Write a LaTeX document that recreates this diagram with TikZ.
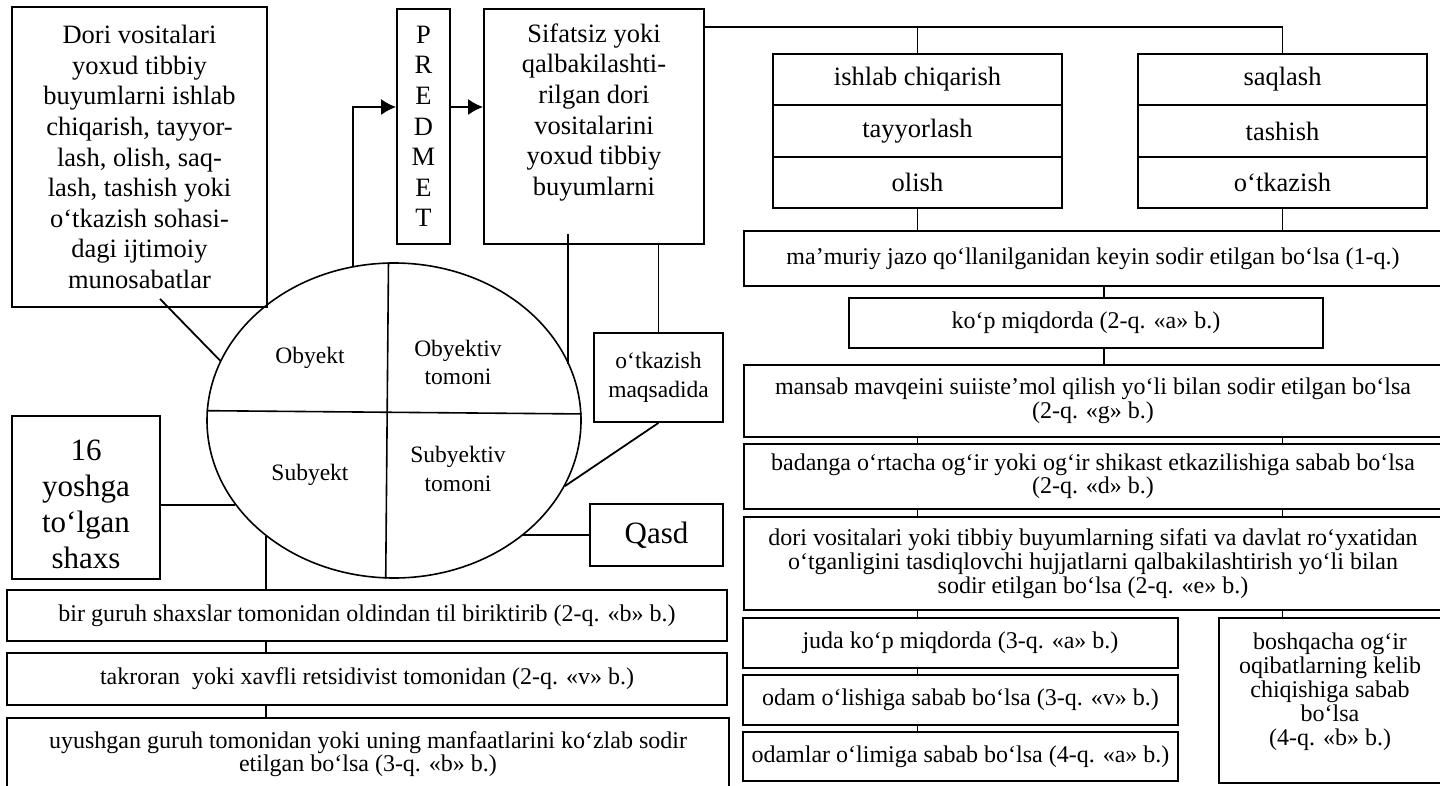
\documentclass[tikz,border=0pt]{standalone}
\usepackage{fontspec}
\setmainfont{Liberation Serif}
\usetikzlibrary{arrows.meta,shapes.geometric}
\begin{document}
\begin{tikzpicture}[x=1pt,y=-1pt,
  box/.style={draw,line width=1.8pt,inner sep=0pt,align=center},
  link/.style={line width=1.8pt},
  arr/.style={line width=1.8pt,-{Latex[length=15pt,width=16pt]}},
  mainf/.style={font=\fontsize{26.5}{30.6}\selectfont},
  ovalf/.style={font=\fontsize{23.5}{28.5}\selectfont},
  rowf/.style={font=\fontsize{24}{24}\selectfont},
  tightf/.style={font=\fontsize{24}{19}\selectfont},
  lowf/.style={font=\fontsize{24}{21}\selectfont},
  bigf/.style={font=\fontsize{31}{36}\selectfont}]
  \useasboundingbox (0,0) rectangle (1440,786);
  % top row
  \node[box,mainf,minimum width=255pt,minimum height=300pt] (obj) at (139.5,157)
    {Dori vositalari\\yoxud tibbiy\\buyumlarni ishlab\\chiqarish, tayyor-\\lash, olish, saq-\\lash, tashish yoki\\o‘tkazish sohasi-\\dagi ijtimoiy\\munosabatlar};
  \node[box,mainf,minimum width=53pt,minimum height=235pt] (pred) at (423.5,126.5) {P\\R\\E\\D\\M\\E\\T};
  \node[box,minimum width=220pt,minimum height=235pt] (sif) at (594,126.5) {};
  \node[mainf,align=center,inner sep=0pt,anchor=north] (siftxt) at (594,23.5)
    {Sifatsiz yoki\\qalbakilashti-\\rilgan dori\\vositalarini\\yoxud tibbiy\\buyumlarni};
  \foreach \nm/\yy/\txt in {ish1/79.5/ishlab chiqarish,ish2/131/tayyorlash,ish3/182.5/olish}
    \node[box,mainf,minimum width=289pt,minimum height=51.5pt] (\nm) at (917.5,\yy) {\txt};
  \foreach \nm/\yy/\txt in {saq1/79.5/saqlash,saq2/131/tashish,saq3/182.5/o‘tkazish}
    \node[box,mainf,minimum width=289pt,minimum height=51.5pt] (\nm) at (1282.5,\yy) {\txt};
  % right column
  \node[box,rowf,minimum width=698pt,minimum height=55pt] (mam) at (1093,258.5)
    {ma’muriy jazo qo‘llanilganidan keyin sodir etilgan bo‘lsa (1-q.)};
  \node[box,rowf,minimum width=474pt,minimum height=50pt] (kop) at (1086,323) {ko‘p miqdorda (2-q. «a» b.)};
  \node[box,rowf,minimum width=698pt,minimum height=72pt] (man) at (1093,401)
    {mansab mavqeini suiiste’mol qilish yo‘li bilan sodir etilgan bo‘lsa\\(2-q. «g» b.)};
  \node[box,tightf,minimum width=698pt,minimum height=65pt] (bad) at (1093,476.5)
    {badanga o‘rtacha og‘ir yoki og‘ir shikast etkazilishiga sabab bo‘lsa\\(2-q. «d» b.)};
  \node[box,rowf,minimum width=698pt,minimum height=93pt] (dor) at (1093,563.5)
    {dori vositalari yoki tibbiy buyumlarning sifati va davlat ro‘yxatidan\\o‘tganligini tasdiqlovchi hujjatlarni qalbakilashtirish yo‘li bilan\\sodir etilgan bo‘lsa (2-q. «e» b.)};
  \node[box,rowf,minimum width=435pt,minimum height=50pt] (jud) at (960.5,643) {juda ko‘p miqdorda (3-q. «a» b.)};
  \node[box,rowf,minimum width=435pt,minimum height=50pt] (oda) at (960.5,700) {odam o‘lishiga sabab bo‘lsa (3-q. «v» b.)};
  \node[box,rowf,minimum width=435pt,minimum height=49pt] (odl) at (960.5,756.5) {odamlar o‘limiga sabab bo‘lsa (4-q. «a» b.)};
  \node[box,minimum width=223pt,minimum height=165pt] (bos) at (1330.5,700.5) {};
  \node[rowf,align=center,inner sep=0pt] (bostxt) at (1330,692)
    {boshqacha og‘ir\\oqibatlarning kelib\\chiqishiga sabab\\bo‘lsa\\(4-q. «b» b.)};
  % element oval
  \node[draw,ellipse,line width=1.6pt,inner sep=0pt,minimum width=374pt,minimum height=315pt] (elem) at (394,420.5) {};
  \draw[line width=1.6pt] (elem.177.7) -- (elem.2.3);
  \draw[line width=1.6pt] (elem.92.9) -- (elem.267.1);
  \node[ovalf] (obyekt) at (310,358) {Obyekt};
  \node[ovalf,align=center] (obtom) at (458,362.5) {Obyektiv\\tomoni};
  \node[ovalf] (subyekt) at (310,475) {Subyekt};
  \node[ovalf,align=center] (subtom) at (458,469) {Subyektiv\\tomoni};
  \node[box,ovalf,minimum width=129pt,minimum height=89pt] (maq) at (658.5,377.5) {o‘tkazish\\maqsadida};
  \node[box,bigf,minimum width=133pt,minimum height=62pt] (qasd) at (656.5,535) {Qasd};
  \node[box,minimum width=148pt,minimum height=163pt] (yosh) at (86,497.5) {};
  \node[bigf,align=center,inner sep=0pt] (yoshtxt) at (86,504) {16\\yoshga\\to‘lgan\\shaxs};
  % bottom left
  \node[box,rowf,minimum width=720pt,minimum height=51pt] (bir) at (367,615.5)
    {bir guruh shaxslar tomonidan oldindan til biriktirib (2-q. «b» b.)};
  \node[box,rowf,minimum width=720pt,minimum height=52pt] (tak) at (367,679)
    {takroran\ \ yoki xavfli retsidivist tomonidan (2-q. «v» b.)};
  \node[box,lowf,minimum width=722pt,minimum height=72pt] (uyu) at (368,754)
    {uyushgan guruh tomonidan yoki uning manfaatlarini ko‘zlab sodir\\etilgan bo‘lsa (3-q. «b» b.)};
  % connectors
  \coordinate (branch) at ([yshift=-19pt]sif.north east);
  \coordinate (kopx) at ([xshift=11pt]mam.south);
  \coordinate (sifbot) at ([xshift=-26pt,yshift=11pt]sif.south);
  \coordinate (yoshx) at ([yshift=-7.5pt]yosh.east);
  \draw[arr] (elem.105.7) |- ([yshift=19.5pt]pred.west);
  \draw[arr] ([yshift=19.5pt]pred.east) -- ([yshift=19.5pt]pred.east -| sif.west);
  \draw[link] (branch) -| (saq1.north);
  \draw[link] (ish1.north) -- (ish1.north |- branch);
  \draw[link] (ish3.south) -- (ish3.south |- mam.north);
  \draw[link] (saq3.south) -- (saq3.south |- mam.north);
  \draw[link] (kopx) -- (kopx |- kop.north);
  \draw[link] (kop.south -| kopx) -- (man.north -| kopx);
  \foreach \a/\b in {man/bad,bad/dor,dor/jud,jud/oda,oda/odl}
    \draw[link] (\a.south -| ish3.south) -- (\b.north -| ish3.south);
  \foreach \a/\b in {man/bad,bad/dor,dor/bos}
    \draw[link] (\a.south -| saq3.south) -- (\b.north -| saq3.south);
  \draw[link] ([xshift=20.5pt,yshift=9pt]obj.south) -- (elem.161.4);
  \draw[link] (sifbot) -- (sifbot |- elem.18.35);
  \draw[link] (maq.north) -- (maq.north |- sif.south);
  \draw[link] (maq.south) -- (elem.339.9);
  \draw[link] (qasd.west) -- (qasd.west -| elem.318.3);
  \draw[link] (yoshx) -- (yoshx -| elem.208.2);
  \draw[link] (elem.222.3) -- (elem.222.3 |- bir.north);
  \draw[link] (bir.south -| elem.222.3) -- (tak.north -| elem.222.3);
  \draw[link] (tak.south -| elem.222.3) -- (uyu.north -| elem.222.3);
\end{tikzpicture}
\end{document}
